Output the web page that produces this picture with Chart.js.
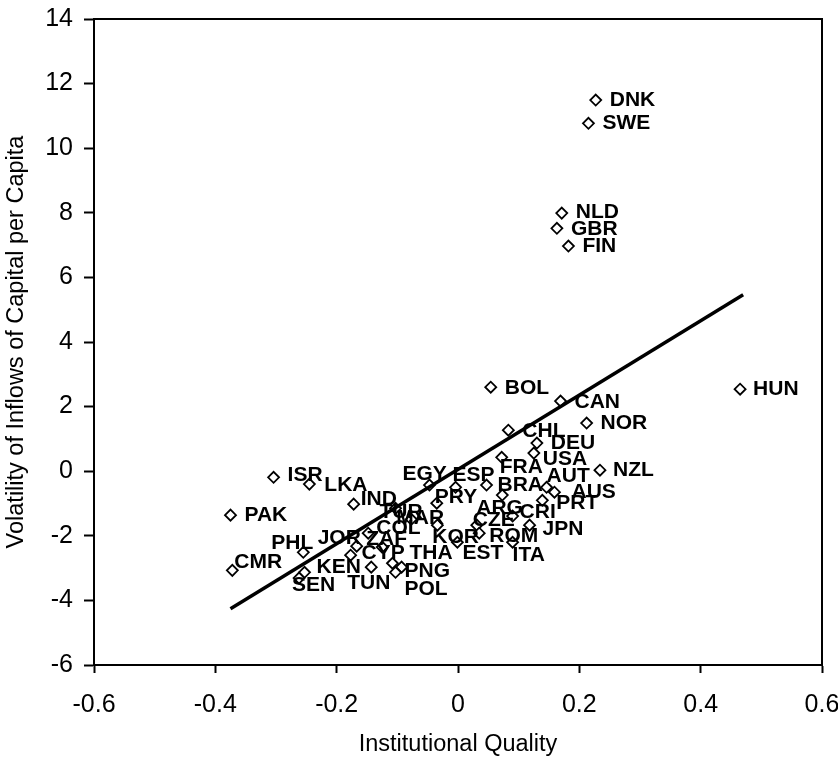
<!DOCTYPE html>
<html>
<head>
<meta charset="utf-8">
<script src="https://cdn.jsdelivr.net/npm/chart.js@4/dist/chart.umd.min.js"></script>
<style>
  html, body { margin: 0; padding: 0; background: #fff; }
  #wrap { width: 838px; height: 759px; }
</style>
</head>
<body>
<div id="wrap"><canvas id="c" width="838" height="759"></canvas></div>
<script>
// ---- data ----
const countries = ["DNK","SWE","NLD","GBR","FIN","HUN","BOL","CAN","NOR","CHL","DEU","USA","NZL","FRA","AUT","AUS","PRT","BRA","ARG","CRI","JPN","CZE","ROM","KOR","MAR","TUR","PRY","EGY","ESP","EST","ITA","THA","CYP","ZAF","COL","JOR","IND","ISR","LKA","PAK","PHL","CMR","KEN","SEN","TUN","PNG","POL"];
const institutionalQuality = [0.227,0.215,0.171,0.163,0.182,0.465,0.054,0.169,0.212,0.083,0.130,0.125,0.234,0.072,0.146,0.159,0.139,0.047,0.073,0.090,0.118,0.031,0.035,-0.034,-0.077,-0.103,-0.035,-0.047,-0.004,-0.001,0.090,-0.108,-0.177,-0.125,-0.148,-0.167,-0.172,-0.304,-0.245,-0.375,-0.255,-0.372,-0.253,-0.262,-0.143,-0.093,-0.103];
const inflowVolatility = [11.49,10.77,7.99,7.52,6.97,2.54,2.60,2.17,1.49,1.27,0.87,0.56,0.03,0.43,-0.50,-0.65,-0.90,-0.43,-0.74,-1.39,-1.67,-1.67,-1.92,-1.67,-1.49,-1.15,-0.99,-0.43,-0.50,-2.20,-2.20,-2.85,-2.60,-2.35,-1.92,-2.32,-1.02,-0.19,-0.40,-1.36,-2.51,-3.07,-3.13,-3.31,-2.97,-2.97,-3.13];
const fitX = [-0.375, 0.47];
const fitY = [-4.26, 5.46];
const xTickValues = [-0.6,-0.4,-0.2,0,0.2,0.4,0.6];
const yTickValues = [-6,-4,-2,0,2,4,6,8,10,12,14];

// ---- label placement (pixel offsets from marker, layout only) ----
const labelOffsets = {
  DNK:[14,0],SWE:[14,0],NLD:[14,-1],GBR:[14,1],FIN:[14,0],HUN:[13,0],BOL:[14,1],CAN:[14,1],NOR:[14,0],CHL:[14,1],
  DEU:[14,0],USA:[9,6],NZL:[13,0],FRA:[-2,10],AUT:[0,-11],AUS:[17,0],PRT:[14,3],BRA:[11,0],ARG:[-26,13],CRI:[7,-4],
  JPN:[13,4],CZE:[-4,-5],ROM:[10,3],KOR:[-5,12],MAR:[-15,-1],TUR:[-16,4],PRY:[-2,-6],EGY:[-27,-11],ESP:[-3,-12],
  EST:[5,11],ITA:[0,13],THA:[17,-10],CYP:[11,-2],ZAF:[-16,-8],COL:[8,-5],JOR:[-39,-8],IND:[7,-5],ISR:[14,-2],
  LKA:[15,1],PAK:[14,0],PHL:[-32,-9],CMR:[2,-8],KEN:[12,-5],SEN:[-7,7],TUN:[-24,16],PNG:[3,4],POL:[9,17]
};

const FONT = "'Liberation Sans', Arial, Helvetica, sans-serif";

const points = institutionalQuality.map((x, i) => ({ x: x, y: inflowVolatility[i] }));
const fitPoints = fitX.map((x, i) => ({ x: x, y: fitY[i] }));

const labelPlugin = {
  id: 'countryLabels',
  afterDatasetDraw(chart, args) {
    if (args.index !== 0) return;
    const ctx = chart.ctx;
    const meta = chart.getDatasetMeta(0);
    ctx.save();
    ctx.font = "bold 21px " + FONT;
    ctx.fillStyle = '#000';
    ctx.textAlign = 'left';
    ctx.textBaseline = 'middle';
    meta.data.forEach((el, i) => {
      const code = countries[i];
      const off = labelOffsets[code] || [14, 0];
      ctx.fillText(code, el.x + off[0], el.y + off[1]);
    });
    ctx.restore();
  }
};

const boxPlugin = {
  id: 'box',
  afterDraw(chart) {
    const a = chart.chartArea, ctx = chart.ctx;
    ctx.save();
    ctx.strokeStyle = '#000';
    ctx.lineWidth = 2;
    ctx.beginPath();
    ctx.moveTo(a.left, a.top);
    ctx.lineTo(a.right, a.top);
    ctx.lineTo(a.right, a.bottom);
    ctx.stroke();
    ctx.restore();
  }
};

function fmt(v) {
  const r = Math.round(v * 10) / 10;
  return r === 0 ? '0' : String(r);
}

new Chart(document.getElementById('c'), {
  type: 'scatter',
  data: {
    datasets: [
      {
        type: 'scatter',
        data: points,
        order: 2,
        pointStyle: 'rectRot',
        pointRadius: 5.5,
        pointHoverRadius: 5.5,
        borderWidth: 1.8,
        borderColor: '#000',
        backgroundColor: '#fff'
      },
      {
        type: 'line',
        data: fitPoints,
        order: 1,
        borderColor: '#000',
        borderWidth: 3.5,
        pointRadius: 0,
        fill: false,
        tension: 0
      }
    ]
  },
  options: {
    responsive: false,
    animation: false,
    devicePixelRatio: 1,
    layout: { padding: { top: 19, right: 16, left: 0, bottom: 0 } },
    plugins: { legend: { display: false }, tooltip: { enabled: false } },
    scales: {
      x: {
        type: 'linear',
        min: -0.6, max: 0.6,
        afterBuildTicks: s => { s.ticks = xTickValues.map(v => ({ value: v })); },
        afterFit: s => { s.height = 94; s.paddingLeft = 0; s.paddingRight = 0; },
        grid: { drawOnChartArea: false, drawTicks: true, tickLength: 8, color: '#000', tickColor: '#000', tickWidth: 2 },
        border: { display: true, color: '#000', width: 2 },
        ticks: { color: '#000', font: { family: FONT, size: 25 }, padding: 17, maxRotation: 0, callback: v => fmt(v) },
        title: { display: true, text: 'Institutional Quality', color: '#000', font: { family: FONT, size: 23.5 }, padding: { top: 0, bottom: 0 } }
      },
      y: {
        type: 'linear',
        min: -6, max: 14,
        afterBuildTicks: s => { s.ticks = yTickValues.map(v => ({ value: v })); },
        afterFit: s => { s.width = 94; s.paddingTop = 0; s.paddingBottom = 0; },
        grid: { drawOnChartArea: false, drawTicks: true, tickLength: 10, color: '#000', tickColor: '#000', tickWidth: 2 },
        border: { display: true, color: '#000', width: 2 },
        ticks: { color: '#000', font: { family: FONT, size: 25 }, padding: 11, callback: v => String(v) },
        title: { display: true, text: 'Volatility of Inflows of Capital per Capita', color: '#000', font: { family: FONT, size: 23.5 }, padding: { top: 2, bottom: 0 } }
      }
    }
  },
  plugins: [labelPlugin, boxPlugin]
});
</script>
</body>
</html>
